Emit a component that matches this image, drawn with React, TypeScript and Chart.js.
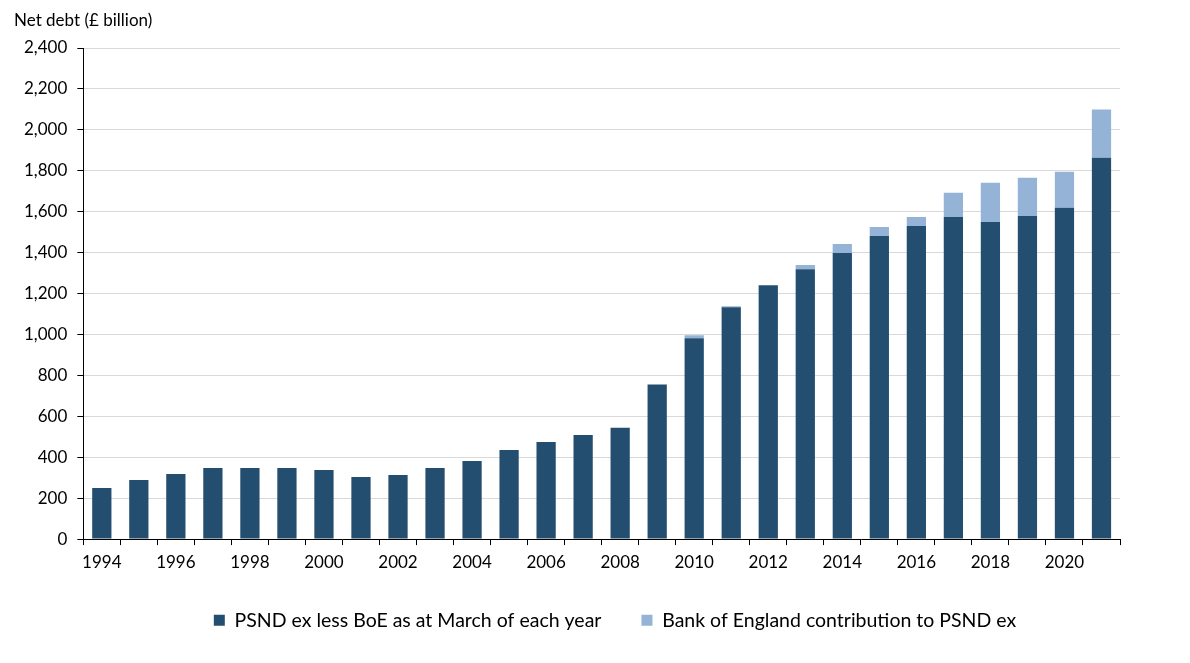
import { useEffect, useRef } from "react";
import Chart from "chart.js/auto";

const years = [
  "1994", "1995", "1996", "1997", "1998", "1999", "2000", "2001", "2002", "2003",
  "2004", "2005", "2006", "2007", "2008", "2009", "2010", "2011", "2012", "2013",
  "2014", "2015", "2016", "2017", "2018", "2019", "2020", "2021",
];

// PSND ex less BoE, £ billion
const psndLessBoe = [
  250, 289, 318, 348, 348, 348, 338, 304, 313, 348,
  382, 436, 475, 509, 544, 755, 981, 1133, 1241, 1319,
  1398, 1481, 1530, 1574, 1550, 1579, 1619, 1864,
];

// Bank of England contribution, £ billion
const boeContribution = [
  0, 0, 0, 0, 0, 0, 0, 0, 0, 0,
  0, 0, 0, 0, 0, 0, 15, 5, 0, 20,
  44, 44, 44, 118, 191, 187, 176, 235,
];

const yTicks = { min: 0, max: 2400, step: 200 };

const FONT = "Lato, 'Noto Sans', sans-serif";

// the legend in the original sits right of the canvas centre
const legendShift = {
  id: "legendShift",
  afterLayout(chart: any) {
    const lg = chart.legend;
    if (!lg) return;
    lg.left += 48;
    lg.right += 48;
    lg.top -= 9;
    lg.bottom -= 9;
  },
};

export default function App() {
  const canvasRef = useRef<HTMLCanvasElement>(null);

  useEffect(() => {
    if (!canvasRef.current) return;

    const chart = new Chart(canvasRef.current, {
      type: "bar",
      data: {
        labels: years,
        datasets: [
          {
            label: "PSND ex less BoE as at March of each year",
            data: psndLessBoe,
            backgroundColor: "#244e70",
            barPercentage: 0.52,
            categoryPercentage: 1,
          },
          {
            label: "Bank of England contribution to PSND ex",
            data: boeContribution,
            backgroundColor: "#95b3d7",
            barPercentage: 0.52,
            categoryPercentage: 1,
          },
        ],
      },
      options: {
        animation: false,
        responsive: false,
        maintainAspectRatio: false,
        events: [],
        layout: {
          padding: { left: 14, right: 70, top: 6, bottom: 14 },
        },
        plugins: {
          title: {
            display: true,
            text: "Net debt (£ billion)",
            align: "start",
            color: "#000",
            font: { family: FONT, size: 17, weight: "normal" },
            padding: { top: 4, bottom: 17.6 },
          },
          legend: {
            position: "bottom",
            labels: {
              color: "#000",
              font: { family: FONT, size: 19.5 },
              boxWidth: 11,
              boxHeight: 11,
              padding: 40,
            },
          },
          tooltip: { enabled: false },
        },
        scales: {
          x: {
            stacked: true,
            grid: {
              offset: true,
              drawOnChartArea: false,
              drawTicks: true,
              tickLength: 6,
              tickColor: "#000",
            },
            border: { color: "#000", width: 1 },
            ticks: {
              color: "#000",
              font: { family: FONT, size: 17 },
              autoSkip: false,
              maxRotation: 0,
              padding: 7,
              callback: (_v, i) => (i % 2 === 0 ? years[i] : ""),
            },
          },
          y: {
            stacked: true,
            min: yTicks.min,
            max: yTicks.max,
            grid: {
              color: "#d9d9d9",
              tickColor: "#000",
              tickLength: 6,
            },
            border: { color: "#000", width: 1 },
            ticks: {
              stepSize: yTicks.step,
              color: "#000",
              font: { family: FONT, size: 17 },
              padding: 10,
              callback: (v) => Number(v).toLocaleString("en-GB"),
            },
          },
        },
      },
      plugins: [legendShift],
    });

    return () => chart.destroy();
  }, []);

  return (
    <div style={{ width: 1190, height: 663, margin: -8, background: "#fff" }}>
      <canvas ref={canvasRef} width={1190} height={663} />
    </div>
  );
}
